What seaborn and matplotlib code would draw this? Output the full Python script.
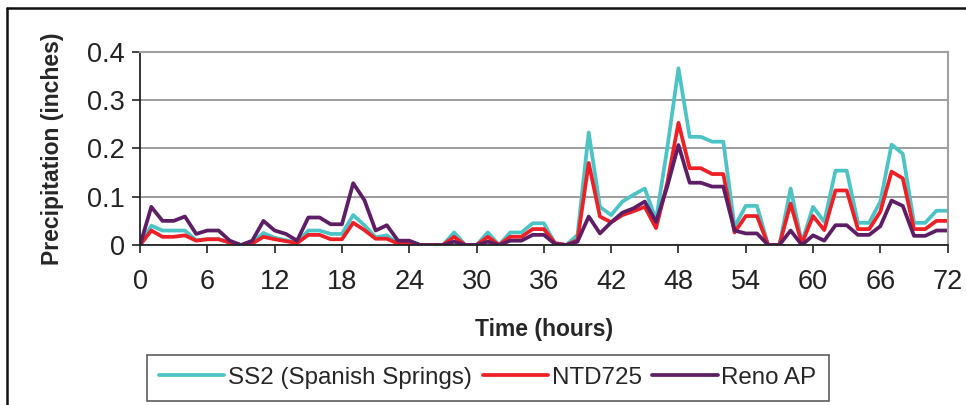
import matplotlib
matplotlib.use("Agg")
import matplotlib.pyplot as plt
from matplotlib.lines import Line2D
import pandas as pd
import seaborn as sns

sns.set_theme(style="white")
plt.rcParams["font.family"] = ["Liberation Sans", "DejaVu Sans"]

hours = list(range(73))

ss2 = [0, 0.04, 0.03, 0.03, 0.03, 0.01, 0.012, 0.012, 0.005, 0, 0.005, 0.025,
       0.015, 0.01, 0.005, 0.03, 0.03, 0.023, 0.023, 0.062, 0.041, 0.016, 0.02,
       0.003, 0.003, 0, 0, 0, 0.026, 0, 0, 0.026, 0, 0.026, 0.026, 0.045, 0.045,
       0.003, 0, 0.021, 0.233, 0.079, 0.062, 0.09, 0.104, 0.117, 0.052, 0.2,
       0.366, 0.224, 0.224, 0.214, 0.214, 0.038, 0.081, 0.081, 0, 0, 0.117,
       0.005, 0.079, 0.048, 0.154, 0.154, 0.046, 0.046, 0.09, 0.208, 0.189,
       0.046, 0.046, 0.071, 0.071]

ntd725 = [0, 0.03, 0.017, 0.017, 0.02, 0.009, 0.012, 0.012, 0.005, 0, 0.003,
          0.017, 0.012, 0.008, 0.004, 0.021, 0.021, 0.012, 0.012, 0.046, 0.031,
          0.013, 0.013, 0.003, 0.002, 0, 0, 0, 0.017, 0, 0, 0.017, 0, 0.017,
          0.017, 0.033, 0.033, 0.004, 0, 0.01, 0.17, 0.059, 0.047, 0.062, 0.07,
          0.079, 0.035, 0.128, 0.253, 0.159, 0.159, 0.147, 0.147, 0.026, 0.06,
          0.06, 0, 0, 0.086, 0.003, 0.06, 0.031, 0.113, 0.113, 0.033, 0.033,
          0.069, 0.152, 0.138, 0.033, 0.033, 0.05, 0.05]

reno_ap = [0, 0.079, 0.05, 0.05, 0.059, 0.023, 0.03, 0.03, 0.009, 0, 0.009,
           0.05, 0.03, 0.023, 0.009, 0.057, 0.057, 0.043, 0.043, 0.128, 0.093,
           0.03, 0.041, 0.009, 0.009, 0, 0, 0, 0.007, 0, 0, 0.007, 0, 0.009,
           0.009, 0.021, 0.021, 0.002, 0, 0.007, 0.059, 0.024, 0.047, 0.067,
           0.076, 0.09, 0.048, 0.121, 0.207, 0.129, 0.129, 0.121, 0.121, 0.03,
           0.024, 0.024, 0, 0, 0.03, 0, 0.02, 0.009, 0.041, 0.041, 0.021, 0.021,
           0.039, 0.092, 0.081, 0.019, 0.019, 0.03, 0.03]

series_names = ["SS2 (Spanish Springs)", "NTD725", "Reno AP"]
colors = ["#4cc4c6", "#ee2025", "#5e1e66"]

df = pd.concat([
    pd.DataFrame({"hour": hours, "precip": vals, "station": name})
    for name, vals in zip(series_names, [ss2, ntd725, reno_ap])
])

fig = plt.figure(figsize=(9.66, 4.05), dpi=100)
ax = fig.add_axes([0.145, 0.395, 0.836, 0.477])

sns.lineplot(data=df, x="hour", y="precip", hue="station",
             hue_order=series_names, palette=colors, linewidth=2.7,
             ax=ax, legend=False)

ax.set_xlim(0, 72)
ax.set_ylim(0, 0.4)
ax.set_xticks(range(0, 73, 6))
ax.set_yticks([0, 0.1, 0.2, 0.3, 0.4])
ax.set_yticklabels(["0", "0.1", "0.2", "0.3", "0.4"])
ax.yaxis.grid(True, color="#8c8c8c", linewidth=1.2)
ax.set_axisbelow(True)

for side in ["top", "right"]:
    ax.spines[side].set_color("#a0a0a0")
    ax.spines[side].set_linewidth(1.5)
for side in ["left", "bottom"]:
    ax.spines[side].set_color("#222222")
    ax.spines[side].set_linewidth(1.3)

ax.tick_params(axis="both", which="major", direction="out", length=6,
               width=1.2, color="#222222", labelsize=19.5, labelcolor="#222222")
ax.tick_params(axis="x", pad=11, bottom=True)
ax.tick_params(axis="y", pad=5, left=True)

ax.set_xlabel("Time (hours)", fontsize=16.5, fontweight="bold")
ax.set_ylabel("Precipitation (inches)", fontsize=16.5, fontweight="bold")
ax.xaxis.set_label_coords(0.5, -0.38)
ax.yaxis.set_label_coords(-0.094, 0.5)

handles = [Line2D([], [], color=c, linewidth=2.7) for c in colors]
leg = fig.legend(handles, series_names, loc="lower left",
                 bbox_to_anchor=(147 / 966, 4 / 405), ncol=3,
                 fontsize=17.4, frameon=True, fancybox=False,
                 handlelength=2.7, handletextpad=0.15, columnspacing=0.45,
                 borderpad=0.5, borderaxespad=0)
leg.get_frame().set_edgecolor("#333333")
leg.get_frame().set_linewidth(1.2)

# outer chart border (top and left edges visible)
fig.add_artist(Line2D([7 / 966, 1], [1 - 8 / 405, 1 - 8 / 405],
                      transform=fig.transFigure, color="#111111", linewidth=1.8))
fig.add_artist(Line2D([7 / 966, 7 / 966], [0, 1 - 8 / 405],
                      transform=fig.transFigure, color="#111111", linewidth=1.8))

fig.savefig("out.png", dpi=100)
plt.close(fig)
